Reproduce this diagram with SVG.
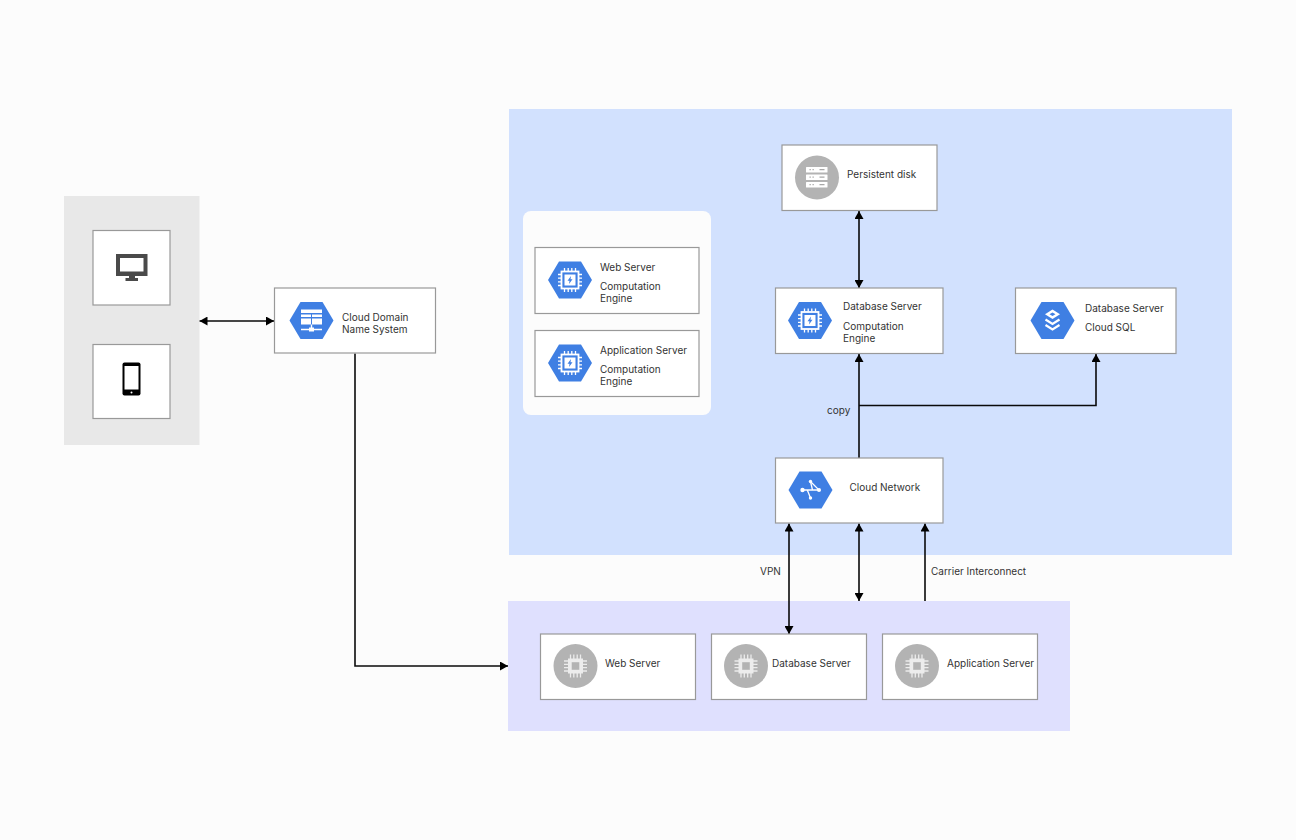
<svg xmlns="http://www.w3.org/2000/svg" width="1296" height="840" viewBox="0 0 1296 840">
<style>
text{font-family:Inter,"Liberation Sans",sans-serif;font-size:10px;fill:#333}
.box{fill:#fff;stroke:#999;stroke-width:1.2}
.c{fill:none;stroke:#0a0a0a;stroke-width:1.6}
.hex{fill:#3f7fe3}
.disc{fill:#b3b3b3}
.w{fill:#fff}
.ws{fill:none;stroke:#fff}
</style>
<defs>
<marker id="end" markerUnits="userSpaceOnUse" viewBox="0 0 8 9" refX="8" refY="4.500" markerWidth="8" markerHeight="9" orient="auto"><path d="M0 0L8 4.500L0 9Z" fill="#000"/></marker>
<marker id="start" markerUnits="userSpaceOnUse" viewBox="0 0 8 9" refX="0" refY="4.500" markerWidth="8" markerHeight="9" orient="auto"><path d="M8 0L0 4.500L8 9Z" fill="#000"/></marker>
<path id="hexagon" class="hex" d="M-22 0L-11-18.500H11L22 0L11 18.500H-11Z"/>
<g id="chip-blue">
<use href="#hexagon"/>
<rect x="-8.500" y="-8.500" width="17" height="17" class="ws" stroke-width="1.800"/>
<path class="ws" stroke-width="1.300" d="M-5.500-12V-9M-1.800-12V-9M1.800-12V-9M5.500-12V-9M-5.500 9V12M-1.800 9V12M1.800 9V12M5.500 9V12M-12-5.500H-9M-12-1.800H-9M-12 1.800H-9M-12 5.500H-9M9-5.500H12M9-1.800H12M9 1.800H12M9 5.500H12"/>
<rect x="-5.500" y="-5.500" width="11" height="11" class="w"/>
<path d="M1-4L-2.500 .8H-.5L-1 4L2.500-.8H.5Z" class="hex"/>
</g>
<g id="chip-gray">
<circle r="22" class="disc"/>
<rect x="-7.500" y="-7.500" width="15" height="15" fill="#ececec"/>
<rect x="-3.800" y="-3.800" width="7.600" height="7.600" class="disc"/>
<path stroke="#ececec" stroke-width="1.300" fill="none" d="M-5-11.500V-7M-1.700-11.500V-7M1.700-11.500V-7M5-11.500V-7M-5 7V11.500M-1.700 7V11.500M1.700 7V11.500M5 7V11.500M-11.500-5H-7M-11.500-1.700H-7M-11.500 1.700H-7M-11.500 5H-7M7-5H11.500M7-1.700H11.500M7 1.700H11.500M7 5H11.500"/>
</g>
</defs>
<rect width="1296" height="840" fill="#fcfcfc"/>
<rect x="509" y="109" width="723" height="446" fill="#d2e1fe"/>
<rect x="508" y="601" width="562" height="130" fill="#dfe0fe"/>
<rect x="64" y="196" width="135.500" height="249" fill="#e8e8e8"/>
<rect x="523" y="211" width="188" height="204" rx="8" fill="#fcfcfc"/>

<g id="connectors">
<path class="c" d="M199.500 321H274" marker-start="url(#start)" marker-end="url(#end)"/>
<path class="c" d="M355 353.500V666H508" marker-end="url(#end)"/>
<path class="c" d="M859 211V288" marker-start="url(#start)" marker-end="url(#end)"/>
<path class="c" d="M859 458V354" marker-end="url(#end)"/>
<path class="c" d="M859 405.500H1096V354" marker-end="url(#end)"/>
<path class="c" d="M789 523.500V634" marker-start="url(#start)" marker-end="url(#end)"/>
<path class="c" d="M859 523.500V601" marker-start="url(#start)" marker-end="url(#end)"/>
<path class="c" d="M925 601V523.500" marker-end="url(#end)"/>
</g>

<g id="desktop">
<rect class="box" x="93" y="230.500" width="77" height="74.500"/>
<path fill-rule="evenodd" fill="#4a4a4a" d="M116 254H147.500V276H116ZM120 258V271.500H143.500V258Z"/>
<rect x="129" y="276" width="6" height="3" fill="#4a4a4a"/>
<rect x="125.500" y="278" width="12.500" height="3" fill="#4a4a4a"/>
</g>
<g id="mobile">
<rect class="box" x="93" y="344.500" width="77" height="74"/>
<rect x="122.500" y="362.500" width="18" height="33" rx="2" fill="#000"/>
<rect x="124.500" y="366" width="14" height="23.500" fill="#fff"/>
<circle cx="131.500" cy="392.500" r="1" fill="#fff"/>
</g>
<g id="dns">
<rect class="box" x="274.500" y="288" width="161" height="65"/>
<use href="#hexagon" x="311.500" y="320.500"/>
<rect x="301" y="309.500" width="21" height="3.500" class="w"/>
<path class="w" d="M301 314.500H311V317H301ZM312 314.500H322V317H312Z"/>
<path class="w" d="M301 318.500H311V324.500H301ZM312 318.500H322V324.500H312Z"/>
<path class="ws" stroke-width="1.400" d="M301 329.500H322M311.500 324.500V329.500"/>
<rect x="309" y="327.500" width="5" height="4" class="w"/>
<text x="342" y="321">Cloud Domain</text>
<text x="342" y="333">Name System</text>
</g>
<g id="web-ce">
<rect class="box" x="535" y="247.500" width="164" height="66"/>
<use href="#chip-blue" x="570" y="280"/>
<text x="600" y="271">Web Server</text>
<text x="600" y="290">Computation</text>
<text x="600" y="302">Engine</text>
</g>
<g id="app-ce">
<rect class="box" x="535" y="330.500" width="164" height="66"/>
<use href="#chip-blue" x="570" y="363"/>
<text x="600" y="354">Application Server</text>
<text x="600" y="373">Computation</text>
<text x="600" y="385">Engine</text>
</g>
<g id="disk">
<rect class="box" x="782" y="145" width="155" height="65.500"/>
<circle cx="817" cy="177.500" r="22" class="disc"/>
<rect x="806" y="167" width="21.500" height="5.500" class="w" rx=".5"/>
<rect x="806" y="174.500" width="21.500" height="5.500" class="w" rx=".5"/>
<rect x="806" y="182" width="21.500" height="5.500" class="w" rx=".5"/>
<path stroke="#a8a8a8" stroke-width="1.200" fill="none" d="M809.500 169.700h1.300M812.500 169.700h1.300M819.500 169.700h5M809.500 177.200h1.300M812.500 177.200h1.300M819.500 177.200h5M809.500 184.700h1.300M812.500 184.700h1.300M819.500 184.700h5"/>
<text x="847" y="178">Persistent disk</text>
</g>
<g id="db-ce">
<rect class="box" x="775.500" y="288" width="167.500" height="65.500"/>
<use href="#chip-blue" x="810" y="320.500"/>
<text x="843" y="310">Database Server</text>
<text x="843" y="329.500">Computation</text>
<text x="843" y="342">Engine</text>
</g>
<g id="db-sql">
<rect class="box" x="1015.500" y="288" width="160.500" height="65.500"/>
<use href="#hexagon" x="1052.500" y="320.500"/>
<path class="w" d="M1052.500 309.500L1060 314.300L1052.500 319L1045 314.300Z"/>
<path class="hex" d="M1052.500 312.500L1055.500 314.300L1052.500 316L1049.500 314.300Z"/>
<path class="ws" stroke-width="2.200" d="M1045.500 319.500L1052.500 324L1059.500 319.500M1045.500 325L1052.500 329.500L1059.500 325"/>
<text x="1085" y="312">Database Server</text>
<text x="1085" y="331">Cloud SQL</text>
</g>
<g id="network">
<rect class="box" x="775.500" y="458" width="167.500" height="65"/>
<use href="#hexagon" x="810.500" y="490"/>
<path class="ws" stroke-width="1.300" d="M810.500 481.500L819 490H802.500M810.500 498L807.500 490.500"/>
<path class="ws" stroke-width="1.300" d="M810.500 481.500L812.500 490"/>
<circle cx="802.500" cy="490" r="2.200" class="w"/><circle cx="819" cy="490" r="2" class="w"/><circle cx="810.500" cy="481.500" r="1.700" class="w"/><circle cx="810.500" cy="498" r="1.700" class="w"/>
<text x="849.500" y="491">Cloud Network</text>
</g>
<g id="web-vm">
<rect class="box" x="540.500" y="634" width="155" height="65.500"/>
<use href="#chip-gray" x="575.500" y="666"/>
<text x="605" y="667">Web Server</text>
</g>
<g id="db-vm">
<rect class="box" x="711.500" y="634" width="155" height="65.500"/>
<use href="#chip-gray" x="746" y="666"/>
<text x="772" y="667">Database Server</text>
</g>
<g id="app-vm">
<rect class="box" x="882.500" y="634" width="155" height="65.500"/>
<use href="#chip-gray" x="917" y="666"/>
<text x="947" y="667">Application Server</text>
</g>
<g id="labels">
<text x="827" y="413.500">copy</text>
<text x="760" y="575">VPN</text>
<text x="931" y="575">Carrier Interconnect</text>
</g>
</svg>
